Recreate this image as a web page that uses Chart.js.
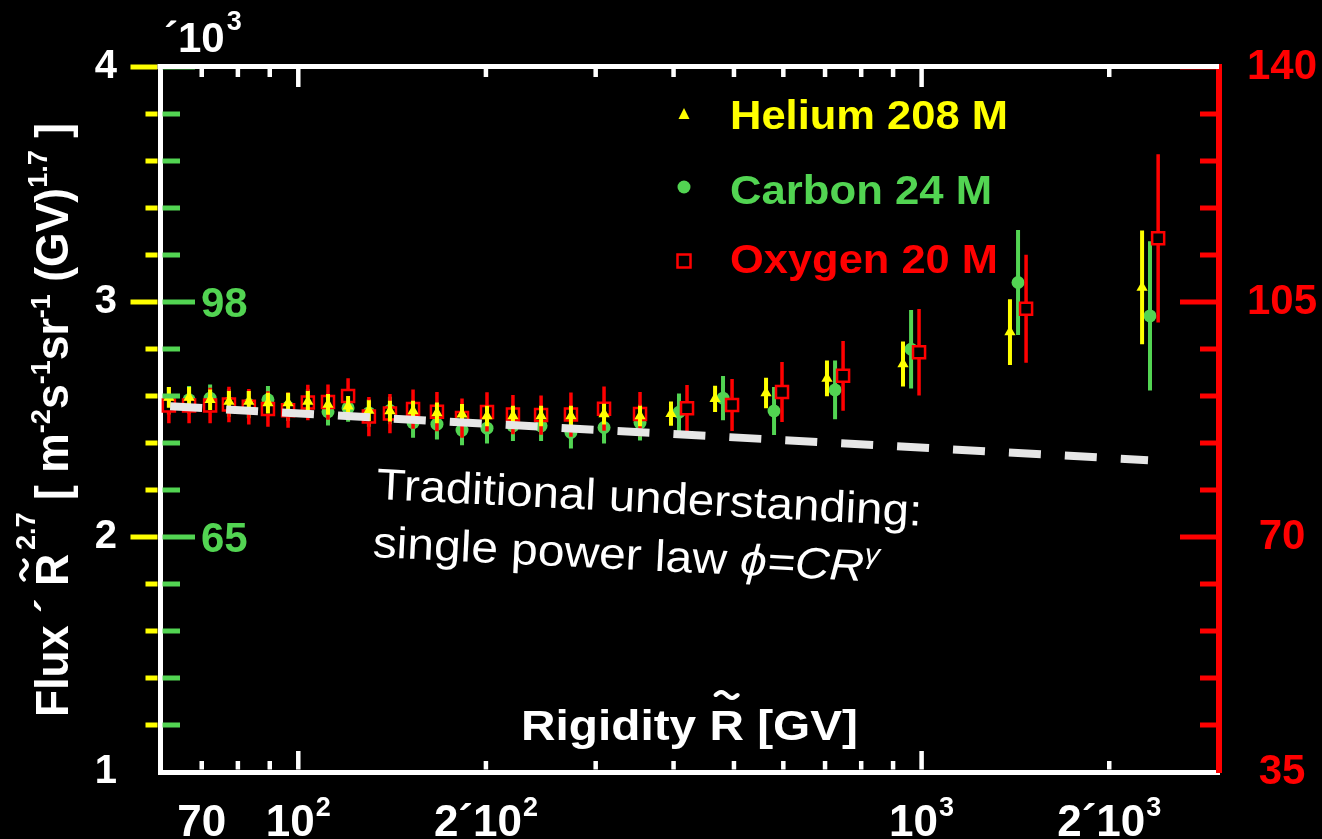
<!DOCTYPE html>
<html>
<head>
<meta charset="utf-8">
<title>Helium, Carbon and Oxygen flux vs rigidity</title>
<script src="https://cdn.jsdelivr.net/npm/chart.js@4.4.1/dist/chart.umd.min.js"></script>
<style>
  html, body { margin: 0; padding: 0; background: #000; }
  #wrap { width: 1322px; height: 839px; }
  canvas { display: block; }
</style>
</head>
<body>
<div id="wrap"><canvas id="chart" width="1322" height="839"></canvas></div>
<script>
// ---- Data: flux x R^2.7 per rigidity bin ----
// Helium in units of 10^3 m^-2 s^-1 sr^-1 GV^1.7 (left axis)
const heliumR = [62.0, 66.8, 72.2, 77.4, 83.3, 89.4, 96.3, 103.6, 111.6, 120.2, 129.8, 140.3, 152.8, 166.9,
                 183.1, 200.8, 221.0, 245.2, 273.8, 309.4, 353.4, 396.2, 466.3, 562.9, 705.0, 933.6, 1386, 2258];
const helium = [2.594, 2.594, 2.584, 2.577, 2.577, 2.570, 2.570, 2.577, 2.564, 2.556, 2.538, 2.536, 2.536, 2.528,
                2.522, 2.515, 2.515, 2.515, 2.515, 2.523, 2.515, 2.525, 2.588, 2.613, 2.675, 2.736, 2.872, 3.062];
const heliumErr = [0.044, 0.044, 0.044, 0.044, 0.044, 0.044, 0.044, 0.044, 0.044, 0.044, 0.044, 0.044, 0.044, 0.044,
                   0.044, 0.044, 0.044, 0.044, 0.044, 0.044, 0.044, 0.052, 0.056, 0.065, 0.076, 0.096, 0.140, 0.242];

// Carbon (green inner scale)
const carbonR = [62.0, 66.8, 72.2, 77.4, 83.3, 89.4, 96.3, 103.6, 111.6, 120.2, 129.8, 140.3, 152.8, 166.9,
                 183.1, 200.8, 221.0, 245.2, 273.8, 309.4, 353.4, 408.1, 480.2, 579.8, 726.4, 961.9, 1428, 2325];
const carbon = [84.14, 84.27, 84.50, 83.81, 83.61, 84.27, 83.22, 83.81, 82.59, 83.12, 82.42, 82.75, 81.07, 80.84,
                80.02, 80.28, 80.61, 80.61, 79.69, 80.38, 81.07, 82.52, 84.50, 82.69, 85.66, 91.37, 100.74, 96.05];
const carbonErr = [1.93, 1.93, 1.93, 1.93, 1.93, 1.93, 1.93, 1.93, 1.93, 1.93, 1.93, 1.93, 2.14, 2.14,
                   2.14, 2.14, 2.14, 2.14, 2.25, 2.25, 2.52, 2.62, 3.10, 3.38, 4.14, 5.52, 7.38, 10.48];

// Oxygen (red right axis)
const oxygenR = [62.0, 66.8, 72.2, 77.4, 83.3, 89.4, 96.3, 103.6, 111.6, 120.2, 129.8, 140.3, 152.8, 166.9,
                 183.1, 200.8, 221.0, 245.2, 273.8, 309.4, 353.4, 420.4, 496.5, 597.1, 748.2, 990.6, 1471, 2396];
const oxygen = [89.59, 89.59, 89.59, 89.73, 89.40, 89.06, 88.89, 90.03, 90.09, 91.01, 87.94, 88.38, 89.06, 88.67,
                87.72, 88.63, 88.23, 88.16, 88.23, 89.11, 88.31, 89.18, 89.65, 91.60, 94.01, 97.52, 103.99, 114.48];
const oxygenErr = [2.63, 2.63, 2.63, 2.63, 2.63, 2.63, 2.63, 2.63, 2.63, 2.63, 2.92, 2.92, 2.92, 2.92,
                   2.92, 2.92, 2.92, 2.92, 3.29, 3.29, 3.29, 3.44, 3.88, 4.46, 5.19, 6.43, 8.04, 12.53];

// Single power law reference (helium units)
const powerLawR = [62.3, 226.9, 2308];
const powerLaw = [2.556, 2.474, 2.327];

// ---- Axes ----
const xRange = [60, 3000];
const xTicks = [70, 100, 200, 1000, 2000];
const xTickBase = ['70', '10', '2\u00B410', '10', '2\u00B410'];   // label text
const xTickExp = ['', '2', '2', '3', '3'];                        // superscript exponent
const xMinorTicks = [70, 80, 90, 200, 300, 400, 500, 600, 700, 800, 900, 2000];
const xMajorTicks = [100, 1000];

const heRange = [1, 4];
const heTicks = [1, 2, 3, 4];
const heMinorTicks = [1.2, 1.4, 1.6, 1.8, 2.2, 2.4, 2.6, 2.8, 3.2, 3.4, 3.6, 3.8];
const heMajorTicks = [2, 3, 4];

const cRange = [32, 131];
const cMinorTicks = [38.6, 45.2, 51.8, 58.4, 71.6, 78.2, 84.8, 91.4, 104.6, 111.2, 117.8, 124.4];
const cMajorTicks = [65, 98, 131];
const cLabelTicks = [65, 98];

const oRange = [35, 140];
const oTicks = [35, 70, 105, 140];
const oMinorTicks = [42, 49, 56, 63, 77, 84, 91, 98, 112, 119, 126, 133];
const oMajorTicks = [70, 105, 140];

// ---- Styles ----
const YELLOW = '#ffff00';
const GREEN = '#52d452';
const RED = '#ff0000';
const WHITE = '#ffffff';
const FAMILY = '"Liberation Sans", Arial, Helvetica, sans-serif';
const font = (size, weight = 'bold', style = 'normal') => `${style} ${weight} ${size}px ${FAMILY}`;

const toPoints = (xs, ys) => xs.map((x, i) => ({ x, y: ys[i] }));

// Vertical error bars, drawn just beneath each series' markers
const errorBars = {
  id: 'errorBars',
  beforeDatasetDraw(chart, args) {
    const ds = chart.data.datasets[args.index];
    if (!ds.errors) return;
    const meta = args.meta;
    const ys = chart.scales[meta.yAxisID];
    const ctx = chart.ctx;
    ctx.save();
    ctx.strokeStyle = ds.errColor;
    ctx.lineWidth = ds.errWidth;
    ctx.lineCap = 'butt';
    ctx.beginPath();
    meta.data.forEach((pt, i) => {
      const v = ds.data[i].y, e = ds.errors[i];
      ctx.moveTo(pt.x, ys.getPixelForValue(v + e));
      ctx.lineTo(pt.x, ys.getPixelForValue(v - e));
    });
    ctx.stroke();
    ctx.restore();
  }
};

// Text made of runs with their own fonts and raises (superscripts)
function runsWidth(ctx, runs) {
  let w = 0;
  for (const r of runs) { ctx.font = r.font; w += ctx.measureText(r.t).width + (r.gap || 0); }
  return w;
}
function drawTilde(ctx, cx, cy, w, amp, lw) {
  ctx.save();
  ctx.lineWidth = lw;
  ctx.lineCap = 'round';
  ctx.beginPath();
  for (let i = 0; i <= 16; i++) {
    const t = i / 16;
    const px = cx - w / 2 + w * t;
    const py = cy - amp * Math.sin(2 * Math.PI * t);
    if (i === 0) ctx.moveTo(px, py); else ctx.lineTo(px, py);
  }
  ctx.stroke();
  ctx.restore();
}
function drawRuns(ctx, runs, x, y, opt) {
  ctx.save();
  ctx.translate(x, y);
  if (opt.angle) ctx.rotate(opt.angle);
  const natural = runsWidth(ctx, runs);
  const sx = opt.width ? opt.width / natural : 1;
  ctx.scale(sx, 1);
  ctx.fillStyle = opt.color;
  ctx.strokeStyle = opt.color;
  ctx.textAlign = 'left';
  ctx.textBaseline = 'alphabetic';
  let cx = opt.center ? -natural / 2 : 0;
  for (const r of runs) {
    ctx.font = r.font;
    const w = ctx.measureText(r.t).width;
    ctx.fillText(r.t, cx, -(r.raise || 0));
    if (r.tilde) drawTilde(ctx, cx + w / 2, -r.tilde, r.tildeW, 3, 4);
    cx += w + (r.gap || 0);
  }
  ctx.restore();
}

const decor = {
  id: 'decor',
  beforeDraw(chart) {
    const ctx = chart.ctx;
    ctx.save();
    ctx.fillStyle = '#000';
    ctx.fillRect(0, 0, chart.width, chart.height);
    ctx.restore();
  },
  afterDatasetsDraw(chart) {
    const { ctx, chartArea: a, scales } = chart;
    const sx = scales.x, sHe = scales.yHe, sC = scales.yC, sO = scales.yO;
    ctx.save();
    ctx.lineCap = 'butt';
    const hLine = (x1, x2, y, c, w) => { ctx.strokeStyle = c; ctx.lineWidth = w; ctx.beginPath(); ctx.moveTo(x1, y); ctx.lineTo(x2, y); ctx.stroke(); };
    const vLine = (x, y1, y2, c, w) => { ctx.strokeStyle = c; ctx.lineWidth = w; ctx.beginPath(); ctx.moveTo(x, y1); ctx.lineTo(x, y2); ctx.stroke(); };

    // rigidity ticks on bottom and top edges
    const bot = a.bottom - 2.5, top = a.top + 2;
    xMinorTicks.forEach(v => { const p = sx.getPixelForValue(v); vLine(p, bot, bot - 8.5, WHITE, 4.5); vLine(p, top, top + 8, WHITE, 4.5); });
    xMajorTicks.forEach(v => { const p = sx.getPixelForValue(v); vLine(p, bot, bot - 18.5, WHITE, 4.5); vLine(p, top, top + 18, WHITE, 4.5); });

    // helium ticks (outside, yellow) and carbon ticks (inside, green)
    heMinorTicks.forEach(v => hLine(a.left - 14.5, a.left - 2.5, sHe.getPixelForValue(v), YELLOW, 5));
    heMajorTicks.forEach(v => hLine(a.left - 29.5, a.left - 2.5, sHe.getPixelForValue(v), YELLOW, 5));
    cMinorTicks.forEach(v => hLine(a.left + 2.5, a.left + 20, sC.getPixelForValue(v), GREEN, 5));
    cMajorTicks.forEach(v => hLine(a.left + 2.5, a.left + 35, sC.getPixelForValue(v), GREEN, 5));

    // oxygen ticks (inside, red)
    oMinorTicks.forEach(v => hLine(a.right - 19, a.right - 3, sO.getPixelForValue(v), RED, 5));
    oMajorTicks.forEach(v => hLine(a.right - 39, a.right - 3, sO.getPixelForValue(v), RED, 5));

    // top frame edge
    hLine(a.left - 2.5, a.right, a.top - 0.5, WHITE, 5);
    ctx.restore();
  },
  afterDraw(chart) {
    const { ctx, chartArea: a, scales } = chart;
    const sC = scales.yC, sx = scales.x;
    ctx.save();

    // rigidity tick labels with raised exponents
    xTicks.forEach((v, i) => {
      const runs = [{ t: xTickBase[i], font: font(44), gap: xTickExp[i] ? 1 : 0 }];
      if (xTickExp[i]) runs.push({ t: xTickExp[i], font: font(27), raise: 20 });
      drawRuns(ctx, runs, sx.getPixelForValue(v), 836, { color: WHITE, center: true });
    });

    // carbon scale labels
    ctx.fillStyle = GREEN;
    ctx.font = font(42);
    ctx.textAlign = 'left';
    ctx.textBaseline = 'middle';
    cLabelTicks.forEach(v => ctx.fillText(String(v), a.left + 41, sC.getPixelForValue(v) + 3));

    // multiplier above the left axis
    drawRuns(ctx, [
      { t: '\u00B4', font: font(42) },
      { t: '10', font: font(42), gap: 2 },
      { t: '3', font: font(27), raise: 22 }
    ], 164, 52, { color: WHITE });

    // y-axis title
    drawRuns(ctx, [
      { t: 'Flux', font: font(46) },
      { t: ' \u00B4 ', font: font(46) },
      { t: 'R', font: font(46), tilde: 44, tildeW: 20, gap: 4 },
      { t: '2.7', font: font(28), raise: 33 },
      { t: ' [ ', font: font(46) },
      { t: 'm', font: font(46) },
      { t: '-2', font: font(28), raise: 18 },
      { t: 's', font: font(46) },
      { t: '-1', font: font(28), raise: 18 },
      { t: 'sr', font: font(46) },
      { t: '-1', font: font(28), raise: 18 },
      { t: ' (GV)', font: font(46) },
      { t: '1.7', font: font(28), raise: 21 },
      { t: ' ]', font: font(46) }
    ], 68, 717, { color: WHITE, angle: -Math.PI / 2, width: 594 });

    // x-axis title, inside the plot
    drawRuns(ctx, [
      { t: 'Rigidity ', font: font(42) },
      { t: 'R', font: font(42), tilde: 45, tildeW: 19 },
      { t: ' [GV]', font: font(42) }
    ], 521, 740, { color: WHITE, width: 337 });

    // legend
    const lx = 684;
    ctx.fillStyle = YELLOW;
    ctx.beginPath();
    ctx.moveTo(lx, 108); ctx.lineTo(lx + 5.5, 119); ctx.lineTo(lx - 5.5, 119); ctx.closePath();
    ctx.fill();
    ctx.fillStyle = GREEN;
    ctx.beginPath(); ctx.arc(lx, 187, 6.5, 0, Math.PI * 2); ctx.fill();
    ctx.strokeStyle = RED; ctx.lineWidth = 2.5;
    ctx.strokeRect(lx - 6.5, 254.5, 13, 13);
    drawRuns(ctx, [{ t: 'Helium 208 M', font: font(40) }], 730, 128.5, { color: YELLOW, width: 278 });
    drawRuns(ctx, [{ t: 'Carbon 24 M', font: font(40) }], 730, 203.5, { color: GREEN, width: 262 });
    drawRuns(ctx, [{ t: 'Oxygen 20 M', font: font(40) }], 730, 273, { color: RED, width: 268 });

    // annotation for the dashed curve
    const ang = 2.8 * Math.PI / 180;
    drawRuns(ctx, [{ t: 'Traditional understanding:', font: font(44, 'normal') }], 376, 499, { color: WHITE, angle: ang, width: 546 });
    ctx.save();
    ctx.translate(376, 499);
    ctx.rotate(ang);
    drawRuns(ctx, [
      { t: 'single power law ', font: font(44, 'normal') },
      { t: '\u03D5=CR', font: font(44, 'normal', 'italic') },
      { t: '\u03B3', font: font(28, 'normal', 'italic'), raise: 18 }
    ], -1, 58, { color: WHITE, width: 507 });
    ctx.restore();

    ctx.restore();
  }
};

new Chart(document.getElementById('chart'), {
  type: 'scatter',
  data: {
    datasets: [
      {
        label: 'single power law',
        data: toPoints(powerLawR, powerLaw),
        yAxisID: 'yHe',
        showLine: true,
        borderColor: '#e6e6e6',
        borderWidth: 8,
        borderDash: [32, 24],
        borderCapStyle: 'butt',
        pointRadius: 0,
        order: 0
      },
      {
        label: 'Helium 208 M',
        data: toPoints(heliumR, helium),
        errors: heliumErr, errColor: YELLOW, errWidth: 4,
        yAxisID: 'yHe',
        pointStyle: 'triangle',
        pointRadius: 6.5,
        pointHoverRadius: 6.5,
        backgroundColor: YELLOW,
        borderColor: YELLOW,
        borderWidth: 0,
        order: 1
      },
      {
        label: 'Oxygen 20 M',
        data: toPoints(oxygenR, oxygen),
        errors: oxygenErr, errColor: RED, errWidth: 3.5,
        yAxisID: 'yO',
        pointStyle: 'rect',
        pointRadius: 8.5,
        pointHoverRadius: 8.5,
        backgroundColor: '#000000',
        borderColor: RED,
        borderWidth: 2.5,
        order: 2
      },
      {
        label: 'Carbon 24 M',
        data: toPoints(carbonR, carbon),
        errors: carbonErr, errColor: GREEN, errWidth: 4,
        yAxisID: 'yC',
        pointStyle: 'circle',
        pointRadius: 6.5,
        pointHoverRadius: 6.5,
        backgroundColor: GREEN,
        borderColor: GREEN,
        borderWidth: 0,
        order: 3
      }
    ]
  },
  options: {
    responsive: false,
    devicePixelRatio: 1,
    animation: false,
    events: [],
    layout: { padding: { top: 60, left: 0, right: 0, bottom: 0 } },
    plugins: { legend: { display: false }, tooltip: { enabled: false } },
    scales: {
      x: {
        type: 'logarithmic',
        position: 'bottom',
        min: xRange[0],
        max: xRange[1],
        afterFit: s => { s.height = 61; },
        afterBuildTicks: s => { s.ticks = xTicks.map(v => ({ value: v })); },
        grid: { display: false, drawTicks: false },
        border: { display: true, color: WHITE, width: 5 },
        ticks: { display: false }
      },
      yHe: {
        type: 'linear',
        position: 'left',
        min: heRange[0],
        max: heRange[1],
        afterFit: s => { s.width = 160; },
        afterBuildTicks: s => { s.ticks = heTicks.map(v => ({ value: v })); },
        grid: { display: false, drawTicks: false },
        border: { display: true, color: WHITE, width: 5 },
        ticks: {
          color: WHITE,
          font: { family: FAMILY, size: 40, weight: 'bold' },
          padding: 43,
          callback: v => String(v)
        }
      },
      yC: {
        type: 'linear',
        display: false,
        min: cRange[0],
        max: cRange[1]
      },
      yO: {
        type: 'linear',
        position: 'right',
        min: oRange[0],
        max: oRange[1],
        afterFit: s => { s.width = 103; },
        afterBuildTicks: s => { s.ticks = oTicks.map(v => ({ value: v })); },
        grid: { display: false, drawTicks: false },
        border: { display: true, color: RED, width: 6 },
        ticks: {
          color: RED,
          font: { family: FAMILY, size: 42, weight: 'bold' },
          padding: 28,
          crossAlign: 'center',
          callback: v => String(v)
        }
      }
    }
  },
  plugins: [errorBars, decor]
});
</script>
</body>
</html>
